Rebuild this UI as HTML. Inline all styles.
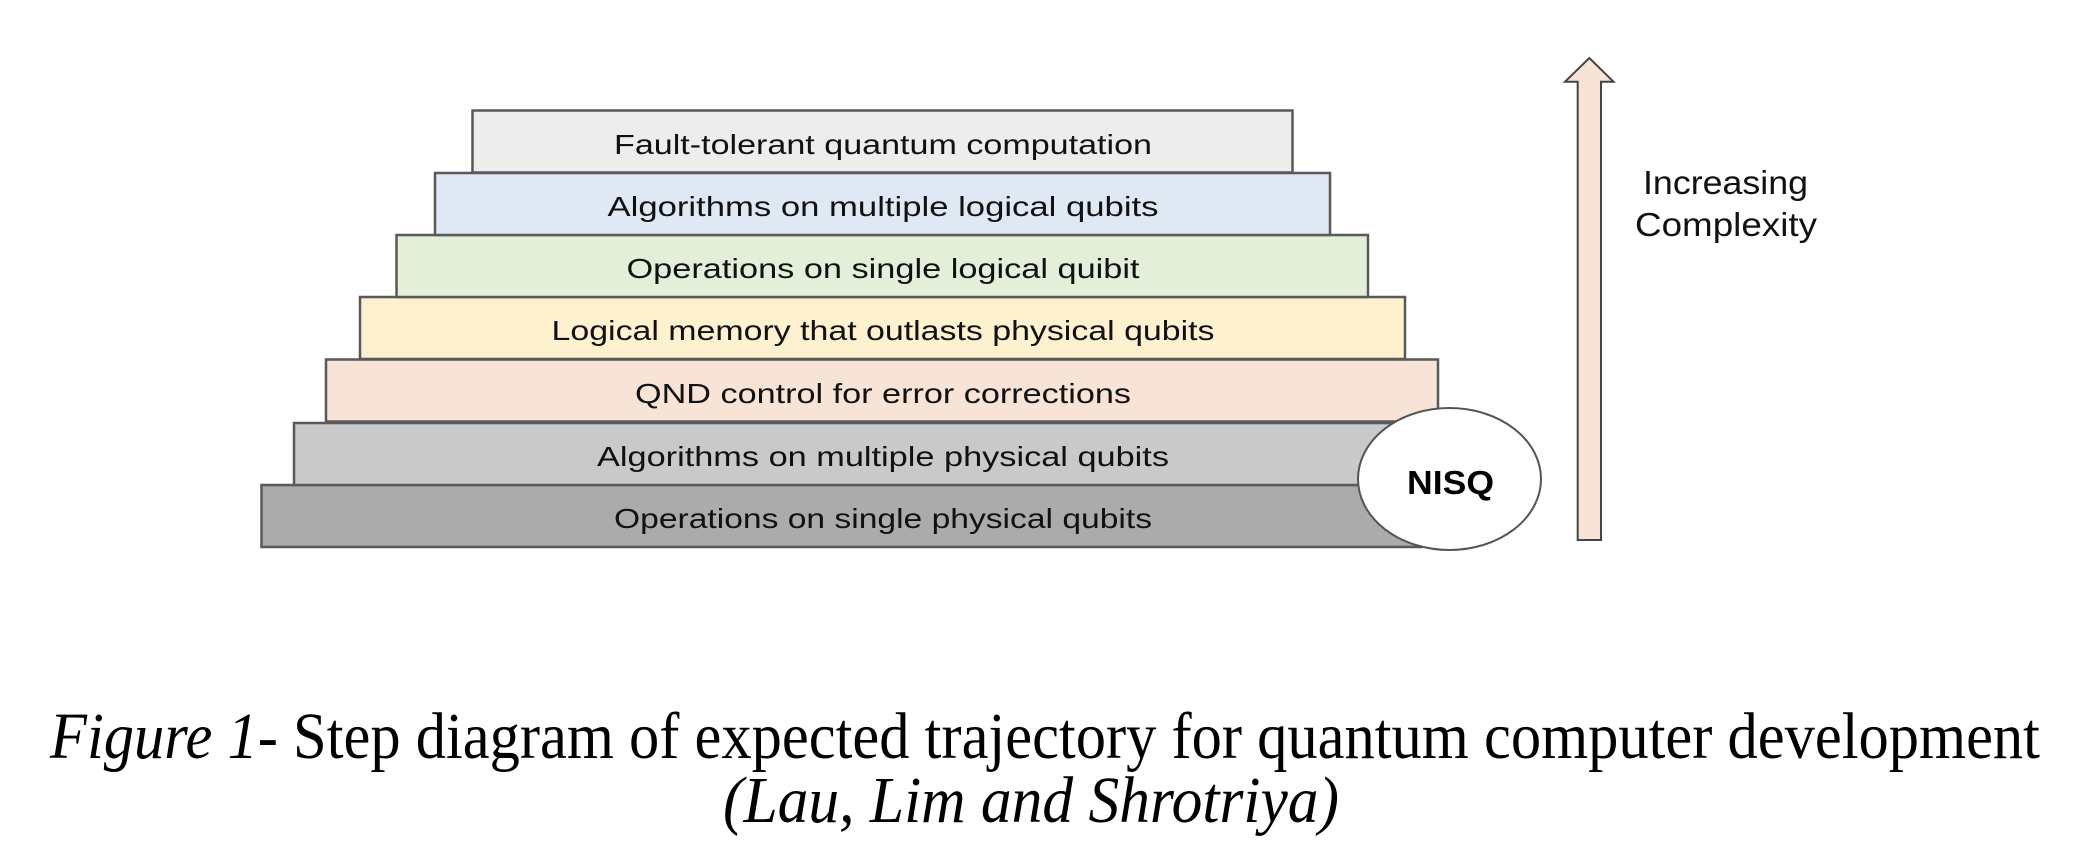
<!DOCTYPE html>
<html><head><meta charset="utf-8"><style>
html,body{margin:0;padding:0;background:#fff;}
svg{display:block;}
</style></head><body>
<svg width="2088" height="842" viewBox="0 0 2088 842" xmlns="http://www.w3.org/2000/svg">
<g stroke="#595959" stroke-width="2.5">
<rect x="261.5" y="485" width="1160" height="62" fill="#ababab"/>
<rect x="294" y="423" width="1130" height="62" fill="#c9c9c9"/>
<rect x="326" y="359.5" width="1112" height="62" fill="#f8e4d6"/>
<rect x="360" y="297" width="1045" height="62" fill="#fdf1d0"/>
<rect x="396.5" y="235" width="971.5" height="62" fill="#e3efd9"/>
<rect x="435" y="173" width="895" height="62" fill="#dfe9f4"/>
<rect x="472.5" y="110.5" width="820" height="62" fill="#ededed"/>
</g>
<g font-family="'Liberation Sans', 'DejaVu Sans', sans-serif" font-size="28" fill="#111" text-anchor="middle">
<text x="883" y="154" textLength="538" lengthAdjust="spacingAndGlyphs">Fault-tolerant quantum computation</text>
<text x="883" y="216" textLength="551" lengthAdjust="spacingAndGlyphs">Algorithms on multiple logical qubits</text>
<text x="883" y="278" textLength="513" lengthAdjust="spacingAndGlyphs">Operations on single logical quibit</text>
<text x="883" y="340" textLength="663" lengthAdjust="spacingAndGlyphs">Logical memory that outlasts physical qubits</text>
<text x="883" y="403" textLength="496" lengthAdjust="spacingAndGlyphs">QND control for error corrections</text>
<text x="883" y="466" textLength="572" lengthAdjust="spacingAndGlyphs">Algorithms on multiple physical qubits</text>
<text x="883" y="528" textLength="538" lengthAdjust="spacingAndGlyphs">Operations on single physical qubits</text>
</g>
<ellipse cx="1449.5" cy="479" rx="91.5" ry="71" fill="#fff" stroke="#555" stroke-width="2"/>
<text x="1450.5" y="494" font-family="'Liberation Sans', sans-serif" font-weight="bold" font-size="33" text-anchor="middle" textLength="87" lengthAdjust="spacingAndGlyphs" fill="#000">NISQ</text>
<polygon points="1589.3,58 1613.5,81.7 1601,81.7 1601,540 1577.7,540 1577.7,81.7 1565,81.7" fill="#f8e4d6" stroke="#444" stroke-width="2"/>
<g font-family="'Liberation Sans', 'DejaVu Sans', sans-serif" font-size="33" fill="#111" text-anchor="middle">
<text x="1725.5" y="194" textLength="165" lengthAdjust="spacingAndGlyphs">Increasing</text>
<text x="1726" y="236" textLength="182" lengthAdjust="spacingAndGlyphs">Complexity</text>
</g>
<g font-family="'Liberation Serif', serif" font-size="66" fill="#000" text-anchor="middle">
<text x="1045" y="758" textLength="1990" lengthAdjust="spacingAndGlyphs"><tspan font-style="italic">Figure 1-</tspan> Step diagram of expected trajectory for quantum computer development</text>
<text x="1031" y="822" font-style="italic" textLength="616" lengthAdjust="spacingAndGlyphs">(Lau, Lim and Shrotriya)</text>
</g>
</svg>
</body></html>
